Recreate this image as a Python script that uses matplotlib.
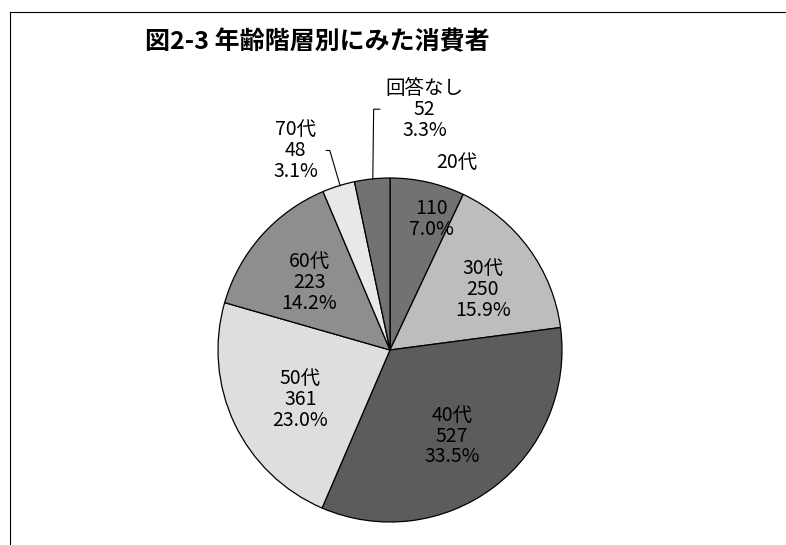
import matplotlib.pyplot as plt
from matplotlib.lines import Line2D

plt.rcParams['font.family'] = ['Noto Sans CJK JP', 'DejaVu Sans']

# data (clockwise from 12 o'clock)
categories = ["20代", "30代", "40代", "50代", "60代", "70代", "回答なし"]
counts = [110, 250, 527, 361, 223, 48, 52]
percents = ["7.0%", "15.9%", "33.5%", "23.0%", "14.2%", "3.1%", "3.3%"]

colors = ["#727272", "#bdbdbd", "#5c5c5c", "#dedede", "#8e8e8e", "#e8e8e8", "#727272"]

W, H = 786, 545
fig = plt.figure(figsize=(W / 100, H / 100), dpi=100)

# frame of the chart area
fig.add_artist(Line2D([10 / W, 1], [1 - 12 / H, 1 - 12 / H], color="black", lw=0.8))
fig.add_artist(Line2D([10 / W, 10 / W], [1 - 12 / H, 0], color="black", lw=0.8))

fig.text(145 / W, 1 - 42 / H, "図2-3 年齢階層別にみた消費者", fontsize=18,
         fontweight="bold", ha="left", va="center")

# pie axes: center (390, 350) px, radius 172 px
cx, cy, r = 390, 350, 172
ax = fig.add_axes([(cx - r) / W, (H - cy - r) / H, 2 * r / W, 2 * r / H])
ax.pie(counts, colors=colors, startangle=90, counterclock=False,
       wedgeprops=dict(edgecolor="black", linewidth=0.9))
ax.set_xlim(-1, 1)
ax.set_ylim(-1, 1)
ax.set_aspect("equal")
ax.axis("off")

fs = 14
ls = 1.0
# labels inside the slices
inside = {
    "30代": (0.54, 0.35),
    "40代": (0.36, -0.50),
    "50代": (-0.52, -0.29),
    "60代": (-0.47, 0.39),
}
for cat, n, p in zip(categories, counts, percents):
    if cat in inside:
        x, y = inside[cat]
        ax.text(x, y, f"{cat}\n{n}\n{p}", ha="center", va="center",
                fontsize=fs, linespacing=ls)

# 20代: name outside, numbers inside
ax.text(0.39, 1.09, categories[0], ha="center", va="center", fontsize=fs)
ax.text(0.24, 0.76, f"{counts[0]}\n{percents[0]}", ha="center", va="center",
        fontsize=fs, linespacing=ls)

# outside labels with leader lines
ax.text(0.20, 1.40, f"{categories[6]}\n{counts[6]}\n{percents[6]}", ha="center",
        va="center", fontsize=fs, linespacing=ls, clip_on=False)
ax.add_line(Line2D([-0.06, -0.095, -0.10], [1.40, 1.40, 0.995], color="black",
                   lw=0.8, clip_on=False))

ax.text(-0.55, 1.16, f"{categories[5]}\n{counts[5]}\n{percents[5]}", ha="center",
        va="center", fontsize=fs, linespacing=ls, clip_on=False)
ax.add_line(Line2D([-0.37, -0.35, -0.29], [1.16, 1.16, 0.955], color="black",
                   lw=0.8, clip_on=False))

fig.savefig("out.png", dpi=100)
